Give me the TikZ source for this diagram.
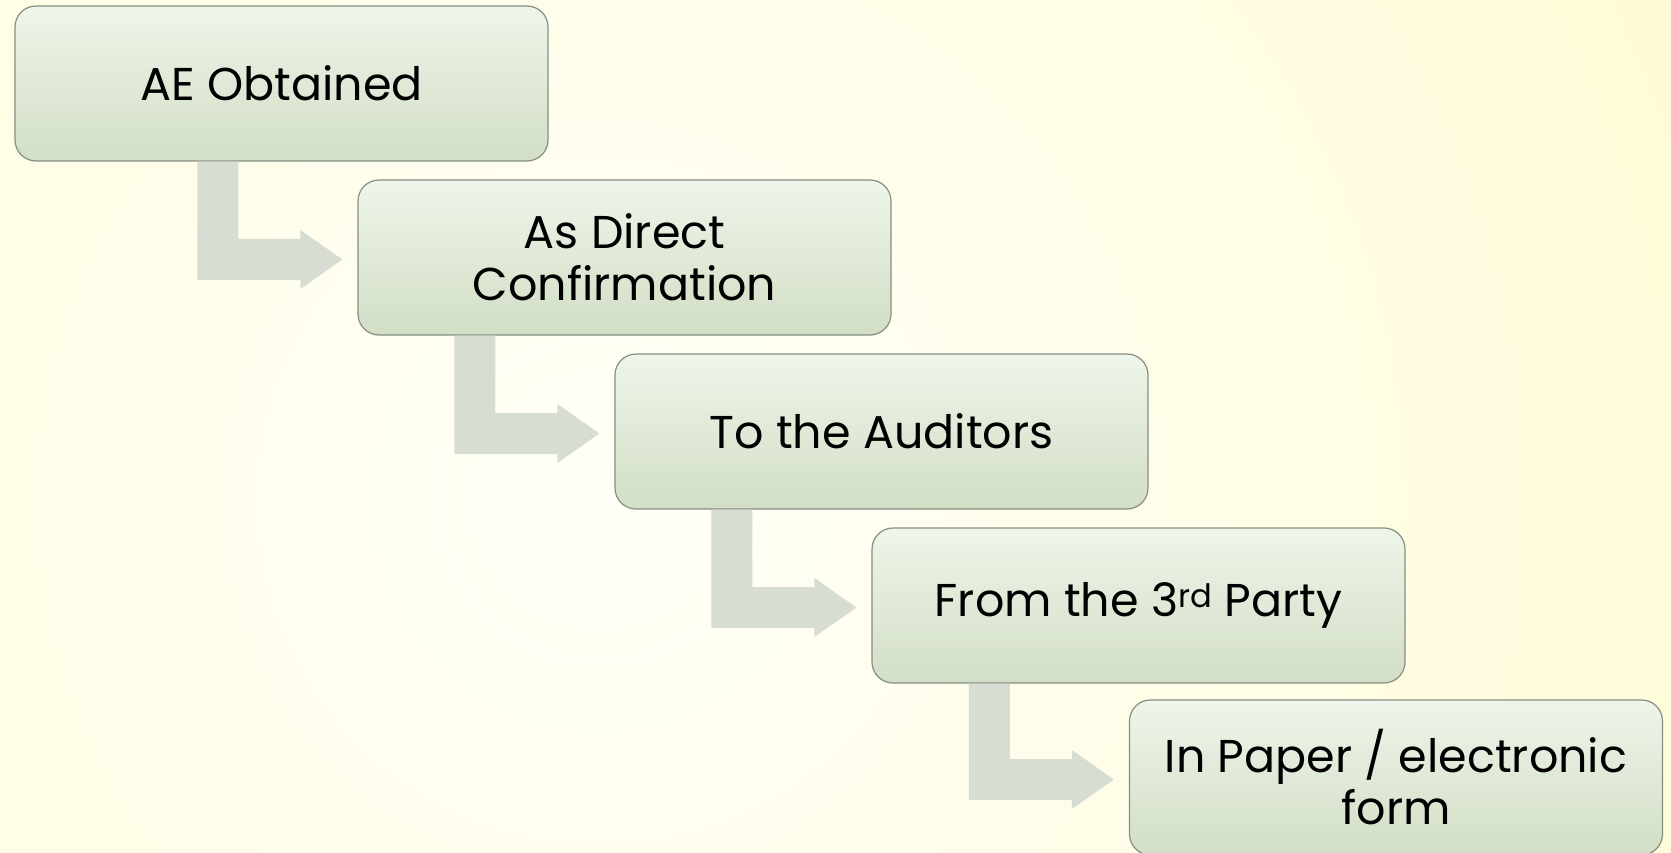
\documentclass[tikz,border=0pt]{standalone}
\usepackage{fontspec}
\setmainfont{Poppins}
\usetikzlibrary{calc}
\definecolor{bgyellow}{HTML}{FFF8BA}
\definecolor{bgwhite}{HTML}{FFFFF8}
\definecolor{boxtop}{HTML}{EEF5EA}
\definecolor{boxbottom}{HTML}{D2DEC5}
\definecolor{boxline}{HTML}{858F83}
\definecolor{elbowgray}{HTML}{D8DDD3}
\begin{document}
\begin{tikzpicture}[x=1pt, y=-1pt,
        stepbox/.style={draw=boxline, line width=1.2pt, rounded corners=21pt,
                top color=boxtop, bottom color=boxbottom,
                minimum width=533pt, minimum height=155pt, inner sep=0pt,
                align=center, font=\fontsize{46}{52}\selectfont},
        elbow/.style={fill=elbowgray}]
        \useasboundingbox (0, 0) rectangle (1671, 853);
        \fill[bgyellow] (0, 0) rectangle (1671, 853);
        \begin{scope}
                \clip (0, 0) rectangle (1671, 853);
                \shade[inner color=bgwhite, outer color=bgyellow] (600, 500) circle (2250);
        \end{scope}
        \node[stepbox] (ae) at (281.5, 83.5) {AE Obtained};
        \node[stepbox] (direct) at (624.5, 257.5) {As Direct\\Confirmation};
        \node[stepbox] (auditors) at (881.5, 431.5) {To the Auditors};
        \node[stepbox] (party) at (1138.5, 605.5) {From the 3\textsuperscript{rd} Party};
        \node[stepbox] (form) at (1396, 777.5) {In Paper / electronic\\form};
        \foreach \a/\b in {ae/direct, direct/auditors, auditors/party, party/form} {
                \coordinate (p) at ($(\b.west) + (-160, 0)$);
                \coordinate (q) at ($(\b.west) + (-119, 0)$);
                \fill[elbow] (p |- \a.south) -- ($(p) + (0, 22.5)$) -- ($(p) + (103, 22.5)$)
                        -- ($(p) + (103, 31.5)$) -- ($(p) + (145, 2)$) -- ($(p) + (103, -27.5)$)
                        -- ($(p) + (103, -18.5)$) -- ($(q) + (0, -18.5)$) -- (q |- \a.south) -- cycle;
            }
    \end{tikzpicture}
\end{document}
